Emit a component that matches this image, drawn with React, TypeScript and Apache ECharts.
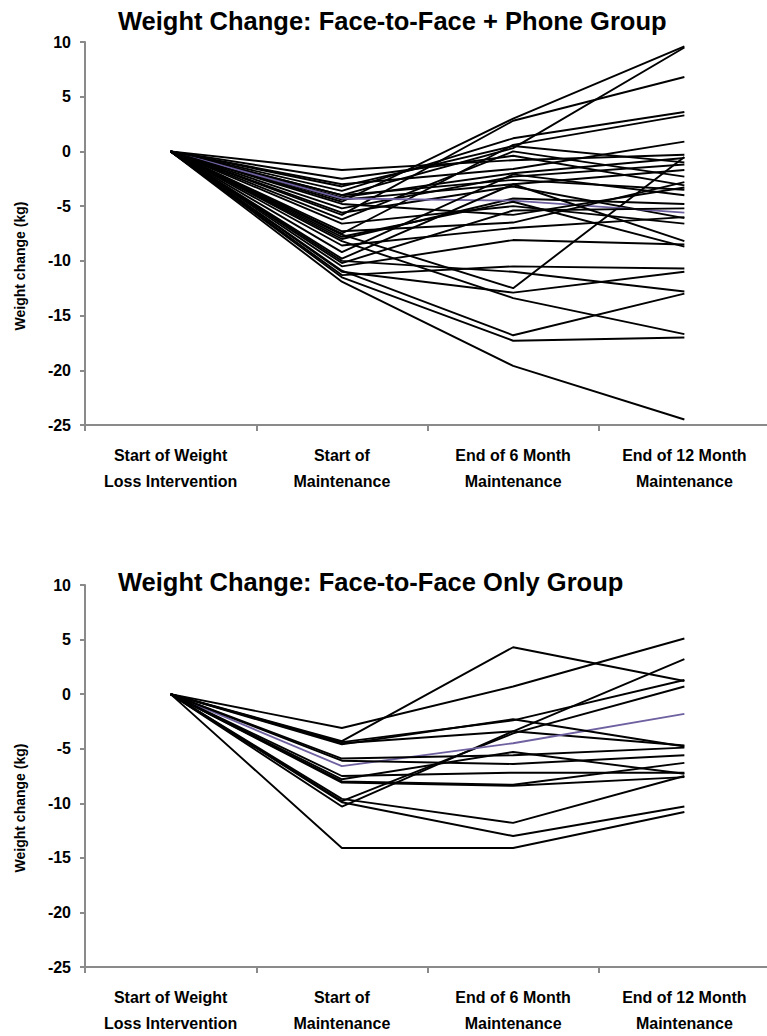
import React, { useEffect, useRef } from "react";
import * as echarts from "echarts";

const categories = [
  "Start of Weight\nLoss Intervention",
  "Start of\nMaintenance",
  "End of 6 Month\nMaintenance",
  "End of 12 Month\nMaintenance",
];

const yMin = -25;
const yMax = 10;
const yInterval = 5;

const titleTop = "Weight Change: Face-to-Face + Phone Group";
const titleBottom = "Weight Change: Face-to-Face Only Group";
const yName = "Weight change (kg)";

// Face-to-Face + Phone group: [start, start of maintenance, 6 month, 12 month]
const phoneLines: number[][] = [
  [0, -4.6, 3.0, 9.6],
  [0, -5.8, 2.8, 6.8],
  [0, -4.0, 0.3, 9.5],
  [0, -3.6, 1.2, 3.6],
  [0, -7.5, 0.6, 3.3],
  [0, -3.0, -1.6, 0.9],
  [0, -1.7, -0.8, -0.3],
  [0, -7.6, -12.5, -0.5],
  [0, -4.2, -2.0, -0.6],
  [0, -5.2, -2.3, -1.2],
  [0, -4.4, -3.0, -1.7],
  [0, -6.2, 0.0, -2.3],
  [0, -2.5, -0.4, -3.1],
  [0, -4.0, -2.6, -3.5],
  [0, -8.0, -4.3, -4.8],
  [0, -5.6, -3.2, -6.1],
  [0, -6.6, -5.0, -6.6],
  [0, -9.8, -3.0, -8.2],
  [0, -7.8, -4.6, -8.7],
  [0, -10.2, -5.4, -5.2],
  [0, -8.6, -7.0, -6.0],
  [0, -10.5, -8.1, -8.5],
  [0, -11.3, -10.5, -10.7],
  [0, -10.0, -11.0, -12.8],
  [0, -11.0, -12.9, -11.0],
  [0, -8.2, -13.4, -16.7],
  [0, -10.9, -16.8, -13.0],
  [0, -11.5, -17.3, -17.0],
  [0, -11.9, -19.6, -24.5],
  [0, -7.3, -6.5, -2.8],
  [0, -9.2, -2.1, -4.0],
  [0, -3.2, 0.5, -1.0],
  [0, -4.8, -5.8, -3.3],
];
const phoneMean = [0, -4.3, -4.5, -5.6];

// Face-to-Face only group
const faceLines: number[][] = [
  [0, -4.3, 4.3, 1.2],
  [0, -3.1, 0.7, 5.1],
  [0, -10.3, -3.4, 3.2],
  [0, -9.8, -3.6, 0.7],
  [0, -4.4, -2.4, 1.3],
  [0, -4.5, -3.4, -4.7],
  [0, -5.9, -5.6, -4.9],
  [0, -6.1, -6.4, -5.6],
  [0, -7.5, -7.2, -7.2],
  [0, -8.0, -8.3, -6.3],
  [0, -8.1, -8.4, -7.6],
  [0, -9.6, -11.8, -7.5],
  [0, -9.9, -13.0, -10.3],
  [0, -14.1, -14.1, -10.8],
  [0, -4.6, -2.3, -4.8],
  [0, -7.8, -5.3, -7.3],
];
const faceMean = [0, -6.6, -4.5, -1.8];

const FONT = "'Liberation Sans', Arial, Helvetica, sans-serif";
const AXIS_GREY = "#8a8a8a";
const MEAN_COLOR = "#6f60a0";

export default function App() {
  const ref = useRef<HTMLDivElement>(null);

  useEffect(() => {
    if (!ref.current) return;
    const chart = echarts.init(ref.current, undefined, { renderer: "svg" });

    const grids = [
      { left: 85, right: 1, top: 42, height: 383 },
      { left: 85, right: 1, top: 585, height: 384 },
    ];

    const xAxes = [0, 1].map((i) => ({
      type: "category",
      gridIndex: i,
      data: categories,
      boundaryGap: true,
      axisLine: { show: true, onZero: false, lineStyle: { color: AXIS_GREY, width: 2 } },
      axisTick: { show: true, length: 6, lineStyle: { color: AXIS_GREY, width: 2 } },
      axisLabel: {
        color: "#000",
        fontWeight: "bold",
        fontSize: 16,
        fontFamily: FONT,
        lineHeight: 26,
        margin: 17,
        interval: 0,
      },
      splitLine: { show: false },
    }));

    const yAxes = [0, 1].map((i) => ({
      type: "value",
      gridIndex: i,
      min: yMin,
      max: yMax,
      interval: yInterval,
      axisLine: { show: true, onZero: false, lineStyle: { color: AXIS_GREY, width: 2 } },
      axisTick: { show: true, length: 5, lineStyle: { color: AXIS_GREY, width: 2 } },
      axisLabel: {
        color: "#000",
        fontWeight: "bold",
        fontSize: 16,
        fontFamily: FONT,
        margin: 14,
      },
      splitLine: { show: false },
    }));

    const mk = (data: number[], idx: number, color: string, width: number) => ({
      type: "line",
      xAxisIndex: idx,
      yAxisIndex: idx,
      data,
      symbol: "none",
      silent: true,
      lineStyle: { color, width },
    });

    const series: any[] = [];
    phoneLines.slice(0, 16).forEach((d) => series.push(mk(d, 0, "#000", 1.9)));
    series.push(mk(phoneMean, 0, MEAN_COLOR, 1.8));
    phoneLines.slice(16).forEach((d) => series.push(mk(d, 0, "#000", 1.9)));
    faceLines.slice(0, 6).forEach((d) => series.push(mk(d, 1, "#000", 1.9)));
    series.push(mk(faceMean, 1, MEAN_COLOR, 1.8));
    faceLines.slice(6).forEach((d) => series.push(mk(d, 1, "#000", 1.9)));

    const nameText = (y: number) => ({
      type: "text",
      x: 20,
      y,
      rotation: Math.PI / 2,
      style: {
        text: yName,
        font: `bold 14px ${FONT}`,
        fill: "#000",
        align: "center",
        verticalAlign: "middle",
      },
    });

    chart.setOption({
      animation: false,
      backgroundColor: "#fff",
      title: [
        {
          text: titleTop,
          left: 118,
          top: 8,
          padding: 0,
          textStyle: { fontSize: 25.5, fontWeight: "bold", fontFamily: FONT, color: "#000" },
        },
        {
          text: titleBottom,
          left: 118,
          top: 569,
          padding: 0,
          textStyle: { fontSize: 25.5, fontWeight: "bold", fontFamily: FONT, color: "#000" },
        },
      ],
      grid: grids,
      xAxis: xAxes,
      yAxis: yAxes,
      series,
      graphic: [nameText(266), nameText(808)],
    });

    return () => chart.dispose();
  }, []);

  return (
    <div
      style={{
        position: "absolute",
        left: 0,
        top: 0,
        width: 767,
        height: 1036,
        overflow: "hidden",
        background: "#fff",
      }}
    >
      <div ref={ref} style={{ width: 771, height: 1036 }} />
    </div>
  );
}
